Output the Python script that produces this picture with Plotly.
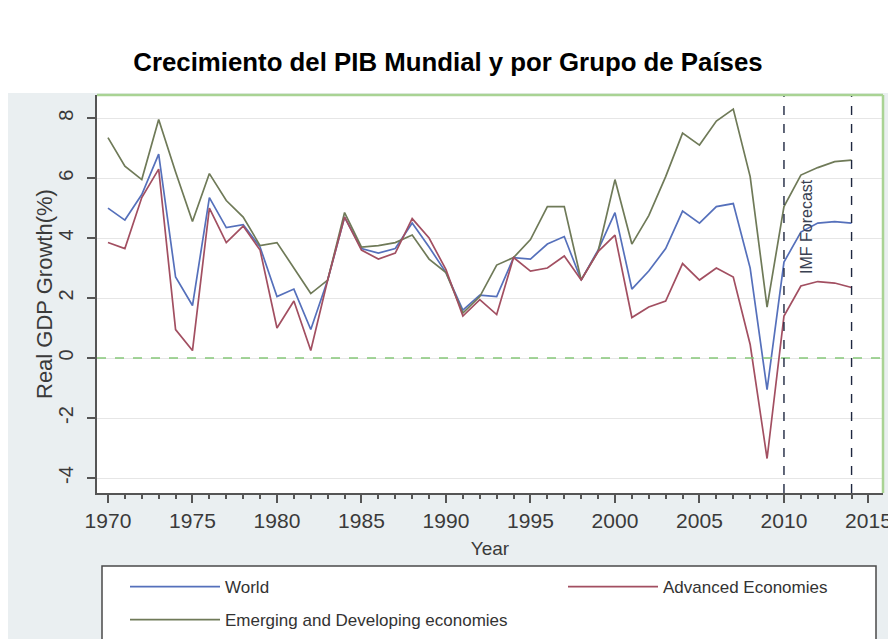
import plotly.graph_objects as go

years = list(range(1970, 2015))

world = [5.0, 4.6, 5.45, 6.8, 2.7, 1.75, 5.35, 4.35, 4.45, 3.7,
         2.05, 2.3, 0.95, 2.6, 4.7, 3.65, 3.5, 3.65, 4.5, 3.7,
         2.85, 1.6, 2.1, 2.05, 3.35, 3.3, 3.8, 4.05, 2.6, 3.6,
         4.85, 2.3, 2.9, 3.65, 4.9, 4.5, 5.05, 5.15, 3.0, -1.05,
         3.2, 4.2, 4.5, 4.55, 4.5]

advanced = [3.85, 3.65, 5.35, 6.3, 0.95, 0.25, 5.0, 3.85, 4.4, 3.6,
            1.0, 1.9, 0.25, 2.6, 4.7, 3.6, 3.3, 3.5, 4.65, 4.0,
            2.95, 1.4, 1.95, 1.45, 3.35, 2.9, 3.0, 3.4, 2.6, 3.55,
            4.1, 1.35, 1.7, 1.9, 3.15, 2.6, 3.0, 2.7, 0.45, -3.35,
            1.4, 2.4, 2.55, 2.5, 2.35]

emerging = [7.35, 6.4, 5.95, 7.95, 6.2, 4.55, 6.15, 5.25, 4.7, 3.75,
            3.85, 3.0, 2.15, 2.6, 4.85, 3.7, 3.75, 3.85, 4.1, 3.3,
            2.85, 1.5, 2.05, 3.1, 3.35, 3.95, 5.05, 5.05, 2.6, 3.55,
            5.95, 3.8, 4.75, 6.05, 7.5, 7.1, 7.9, 8.3, 6.05, 1.7,
            5.05, 6.1, 6.35, 6.55, 6.6]

forecast_years = [2010, 2014]
x_ticks = [1970, 1975, 1980, 1985, 1990, 1995, 2000, 2005, 2010, 2015]
y_ticks = [-4, -2, 0, 2, 4, 6, 8]
y_labels = ["-4", "-2", "0", "2", "4", "6", "8"]

FONT = "Liberation Sans, Arial, sans-serif"
PANEL = "#eaeff1"
AXIS = "#555555"

# plot area is 786 x 398 px; helpers turn page pixels into paper units
PW, PH, PL, PB = 786, 398, 97, 493


def px(x):
    return (x - PL) / PW


def py(y):
    return (PB - y) / PH


fig = go.Figure()

fig.add_trace(go.Scatter(x=years, y=world, mode="lines", name="World",
                         line=dict(color="#5570bb", width=1.7),
                         legend="legend", legendgroup="w"))
fig.add_trace(go.Scatter(x=years, y=emerging, mode="lines",
                         name="Emerging and Developing economies",
                         line=dict(color="#6f7a58", width=1.7),
                         legend="legend", legendgroup="e"))
fig.add_trace(go.Scatter(x=years, y=advanced, mode="lines",
                         name="Advanced Economies",
                         line=dict(color="#a24f61", width=1.7),
                         legend="legend2"))

# zero line and forecast markers
fig.add_hline(y=0, line=dict(color="#86c77a", width=1.6, dash="dash"))
for fy in forecast_years:
    fig.add_vline(x=fy, line=dict(color="#1e2740", width=1.4, dash="dash"))

fig.add_annotation(x=2011.3, y=4.4, text="IMF Forecast", textangle=-90,
                   showarrow=False, font=dict(family=FONT, size=16, color="#3a4152"))

fig.add_annotation(x=px(44), y=0.5, xref="paper", yref="paper",
                   xanchor="center", yanchor="middle",
                   text="Real GDP Growth(%)", textangle=-90, showarrow=False,
                   font=dict(family=FONT, size=22, color="#3a3a3a"))

# white header band, green plot border, legend frame
fig.add_shape(type="rect", xref="paper", yref="paper", x0=-0.2, x1=1.1,
              y0=py(93), y1=1.4, fillcolor="white", line_width=0, layer="above")
fig.add_shape(type="line", xref="paper", yref="paper", x0=0, x1=1, y0=1, y1=1,
              line=dict(color="#a9d394", width=2.5), layer="above")
fig.add_shape(type="line", xref="paper", yref="paper", x0=1, x1=1, y0=0, y1=1,
              line=dict(color="#a9d394", width=2.5), layer="above")
fig.add_shape(type="rect", xref="paper", yref="paper",
              x0=px(102), x1=px(876), y0=py(660), y1=py(566),
              fillcolor="white", line=dict(color="#4a4a4a", width=1.5), layer="above")

legend_style = dict(orientation="v", bgcolor="rgba(0,0,0,0)", borderwidth=0,
                    font=dict(family=FONT, size=17, color="#333333"),
                    itemwidth=90, tracegroupgap=8, xanchor="left", yanchor="top")

fig.update_layout(
    width=888, height=631,
    margin=dict(l=89, r=13, t=87, b=146, autoexpand=False),
    paper_bgcolor=PANEL,
    plot_bgcolor="white",
    title=dict(text="<b>Crecimiento del PIB Mundial y por Grupo de Países</b>",
               x=440 / 888, xref="container", y=1 - 54 / 631, yanchor="middle",
               font=dict(family=FONT, size=25.8, color="black")),
    font=dict(family=FONT, color="#333333"),
    showlegend=True,
    legend=dict(x=px(125), y=py(569), **legend_style),
    legend2=dict(x=px(563), y=py(569), **legend_style),
    xaxis=dict(
        range=[1969.35, 2015.86], tickvals=x_ticks, ticks="outside", ticklen=8,
        tickwidth=1.5, tickcolor=AXIS, showline=True, linecolor=AXIS, linewidth=1.5,
        showgrid=False, zeroline=False,
        minor=dict(dtick=1, ticks="outside", ticklen=4, tickcolor=AXIS, showgrid=False),
        tickfont=dict(family=FONT, size=21, color="#3a3a3a"),
        title=dict(text="Year", standoff=11, font=dict(family=FONT, size=19, color="#3a3a3a")),
    ),
    yaxis=dict(
        range=[-4.5, 8.77], tickvals=y_ticks, ticktext=y_labels, tickangle=-90,
        ticks="outside", ticklen=8, ticklabelstandoff=6,
        tickwidth=1.5, tickcolor=AXIS, showline=True, linecolor=AXIS, linewidth=1.5,
        showgrid=True, gridcolor="#e6e6e6", gridwidth=1.2, zeroline=False,
        tickfont=dict(family=FONT, size=20, color="#3a3a3a"),
    ),
)

fig.write_html("out.html")
